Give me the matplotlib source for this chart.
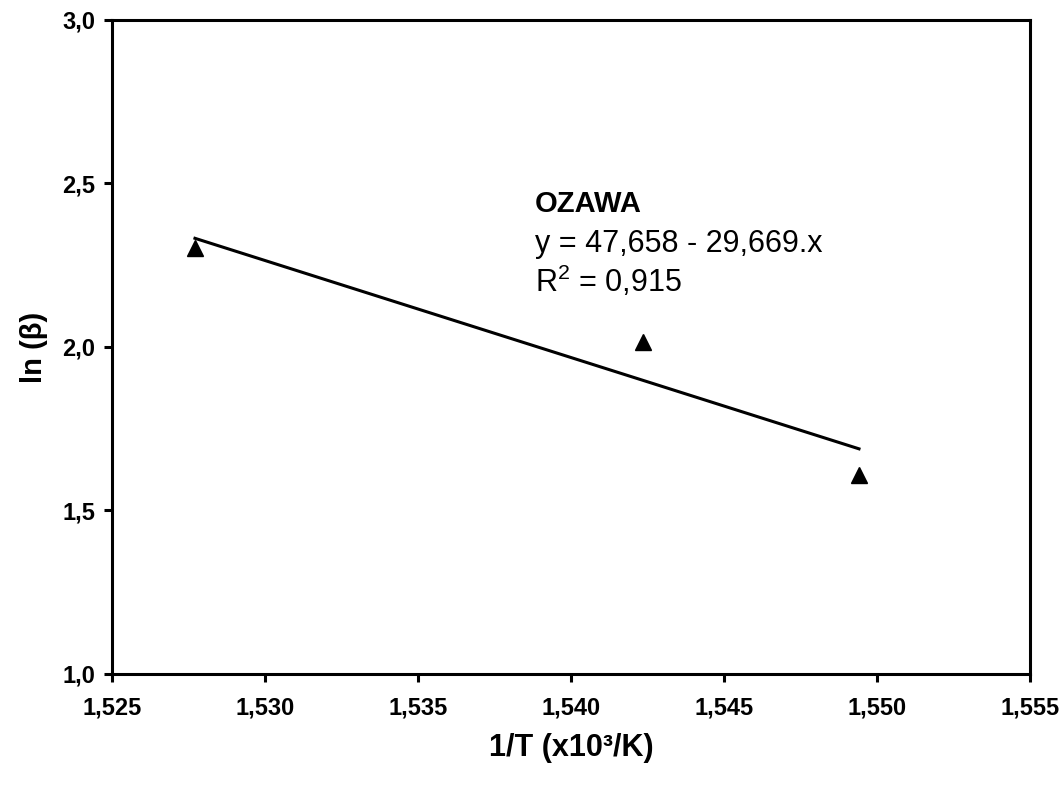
import numpy as np
import matplotlib
matplotlib.use('Agg')
import matplotlib.pyplot as plt
from matplotlib.ticker import FuncFormatter

plt.rcParams['font.family'] = ['Liberation Sans', 'DejaVu Sans']
plt.rcParams['mathtext.fontset'] = 'custom'
plt.rcParams['mathtext.rm'] = 'Liberation Sans'
plt.rcParams['mathtext.it'] = 'Liberation Sans'

# data
inv_T = [1.52771, 1.54235, 1.54941]   # 1/T (x10^3/K)
ln_beta = [2.303, 2.015, 1.609]       # ln(beta)

# regression reported on the chart
intercept = 47.658
slope = -29.669
r2 = 0.915

x_ticks = [1.525, 1.530, 1.535, 1.540, 1.545, 1.550, 1.555]
y_ticks = [1.0, 1.5, 2.0, 2.5, 3.0]

fig = plt.figure(figsize=(10.63, 7.87), dpi=100)
ax = fig.add_axes([0.1054, 0.1436, 0.8636, 0.831])

ax.plot(inv_T, ln_beta, linestyle='none', marker='^', markersize=11, color='black')

x_fit = np.array([inv_T[0], inv_T[-1]])
ax.plot(x_fit, intercept + slope * x_fit, color='black', linewidth=2.2)

ax.set_xlim(1.525, 1.555)
ax.set_ylim(1.0, 3.0)
ax.set_xticks(x_ticks)
ax.set_yticks(y_ticks)
ax.xaxis.set_major_formatter(FuncFormatter(lambda v, p: ('%.3f' % v).replace('.', ',')))
ax.yaxis.set_major_formatter(FuncFormatter(lambda v, p: ('%.1f' % v).replace('.', ',')))

for s in ax.spines.values():
    s.set_linewidth(2.2)
ax.tick_params(direction='out', length=6, width=2.2, labelsize=17)
ax.tick_params(axis='x', pad=10)
ax.tick_params(axis='y', pad=6)
for lab in ax.get_xticklabels() + ax.get_yticklabels():
    lab.set_fontweight('bold')

ax.set_xlabel('1/T (x10\u00b3/K)', fontsize=22, fontweight='bold', labelpad=10)
ax.set_ylabel('ln (\u03b2)', fontsize=21, fontweight='bold', labelpad=10)

ax.text(0.461, 0.706, 'OZAWA', transform=ax.transAxes, fontsize=21, fontweight='bold', va='baseline')
ax.text(0.461, 0.645, 'y = %s - %s.x' % (('%.3f' % intercept).replace('.', ','),
                                          ('%.3f' % -slope).replace('.', ',')),
        transform=ax.transAxes, fontsize=22, va='baseline')
ax.text(0.461, 0.584, r'R$^2$ = ' + ('%.3f' % r2).replace('.', ','),
        transform=ax.transAxes, fontsize=22, va='baseline')

fig.savefig('out.png', dpi=100)
